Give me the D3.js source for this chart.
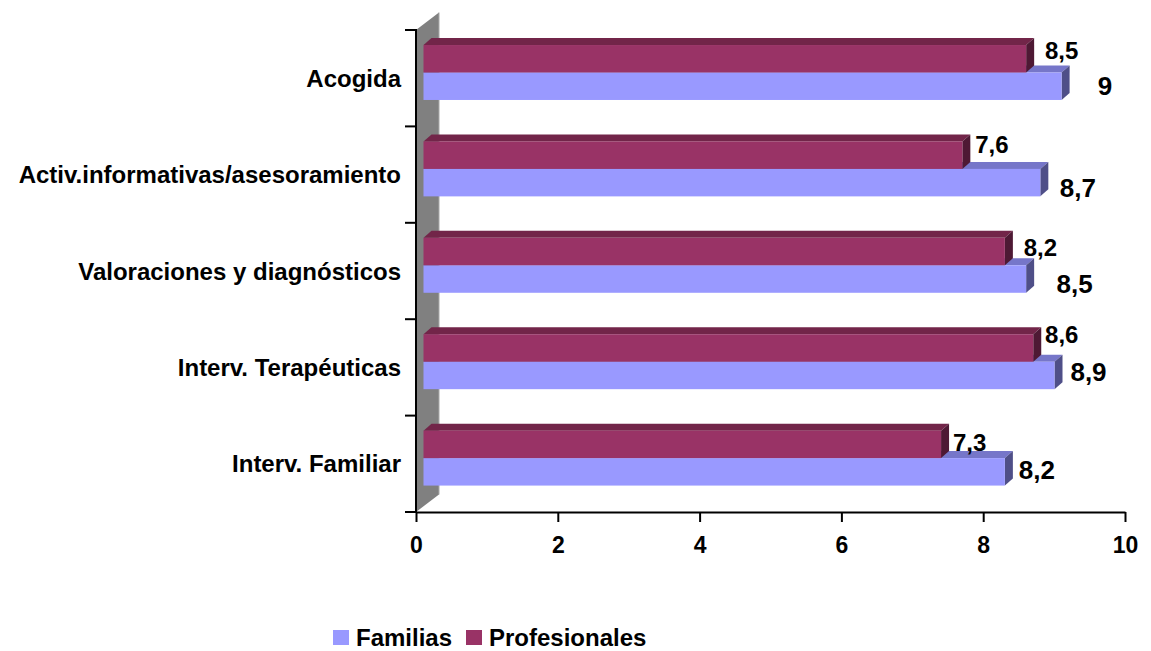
<!DOCTYPE html>
<html>
<head>
<meta charset="utf-8">
<script src="https://cdn.jsdelivr.net/npm/d3@7/dist/d3.min.js"></script>
<style>
  html, body { margin: 0; padding: 0; background: #fff; }
  svg { display: block; }
  text { font-family: "Liberation Sans", Arial, sans-serif; font-weight: bold; fill: #000; }
</style>
</head>
<body>
<svg id="chart" width="1151" height="651"></svg>
<script>
// Categories, listed from top to bottom
const categories = [
  "Acogida",
  "Activ.informativas/asesoramiento",
  "Valoraciones y diagnósticos",
  "Interv. Terapéuticas",
  "Interv. Familiar"
];
// Ratings per series
const familias      = [9, 8.7, 8.5, 8.9, 8.2];
const profesionales = [8.5, 7.6, 8.2, 8.6, 7.3];
const seriesNames   = ["Familias", "Profesionales"];
const xTicks        = [0, 2, 4, 6, 8, 10];

// Per-label nudges for the value labels (pixels)
const nudgeProf = { dx: [4, -2, 4, -3, -3], dy: [-8, -11, -4, -14, -2] };
const nudgeFam  = { dx: [5, -1, 10, -4.5, -6.5], dy: [-1, 5, 5, -4, -2] };

const svg = d3.select("#chart");

const plot = { left: 416, right: 1125, top: 30, bottom: 512 };
const x = d3.scaleLinear().domain([0, 10]).range([plot.left, plot.right]);
const y = d3.scaleBand().domain(categories).range([plot.top, plot.bottom]).padding(0);

// 3D depth of the back wall and of the bars
const wall = { dx: 23, dy: -17.5 };
const front = { dx: 7.5, dy: -5.7 };   // front face offset from the axis plane
const depth = { dx: 8, dy: -7 };        // bar thickness
const barH = y.bandwidth() * 0.285;

const palette = {
  Familias:      { front: "#9999FF", top: "#7676C9", side: "#4F4F88" },
  Profesionales: { front: "#993366", top: "#722549", side: "#4E1934" }
};

// Back wall
svg.append("polygon")
  .attr("points", [
    [plot.left, plot.top],
    [plot.left + wall.dx, plot.top + wall.dy],
    [plot.left + wall.dx, plot.bottom + wall.dy],
    [plot.left, plot.bottom]
  ].map(p => p.join(",")).join(" "))
  .attr("fill", "#808080");
svg.append("line")
  .attr("x1", plot.left + wall.dx).attr("x2", plot.left + wall.dx)
  .attr("y1", plot.top + wall.dy).attr("y2", plot.bottom + wall.dy)
  .attr("stroke", "#a8a8a8").attr("stroke-width", 1);

function drawBar(g, value, yFront, colors) {
  const x0 = x(0) + front.dx;
  const x1 = x(value) + front.dx;
  const y0 = yFront, y1 = yFront + barH;
  const pts = arr => arr.map(p => p.join(",")).join(" ");
  // top face
  g.append("polygon").attr("fill", colors.top).attr("points", pts([
    [x0, y0], [x0 + depth.dx, y0 + depth.dy], [x1 + depth.dx, y0 + depth.dy], [x1, y0]
  ]));
  // end face
  g.append("polygon").attr("fill", colors.side).attr("points", pts([
    [x1, y0], [x1 + depth.dx, y0 + depth.dy], [x1 + depth.dx, y1 + depth.dy], [x1, y1]
  ]));
  // front face
  g.append("rect").attr("fill", colors.front)
    .attr("x", x0).attr("y", y0).attr("width", x1 - x0).attr("height", barH);
}

const bars = svg.append("g");
categories.forEach((c, i) => {
  const mid = y(c) + y.bandwidth() / 2 + front.dy;
  const g = bars.append("g");
  // lower bar first so the upper one covers its top face
  drawBar(g, familias[i], mid, palette.Familias);
  drawBar(g, profesionales[i], mid - barH, palette.Profesionales);
});

// Value labels
const labels = svg.append("g");
categories.forEach((c, i) => {
  const mid = y(c) + y.bandwidth() / 2 + front.dy;
  labels.append("text")
    .attr("x", x(profesionales[i]) + 39 + nudgeProf.dx[i])
    .attr("y", mid - barH / 2 + nudgeProf.dy[i])
    .attr("dy", "0.36em")
    .attr("text-anchor", "middle")
    .style("font-size", "24px")
    .text(String(profesionales[i]).replace(".", ","));
  labels.append("text")
    .attr("x", x(familias[i]) + 46 + nudgeFam.dx[i])
    .attr("y", mid + barH / 2 + nudgeFam.dy[i])
    .attr("dy", "0.36em")
    .attr("text-anchor", "middle")
    .style("font-size", "26px")
    .text(String(familias[i]).replace(".", ","));
});

// Vertical axis with ticks at band boundaries
const axes = svg.append("g").attr("stroke", "#000").attr("stroke-width", 2);
axes.append("line")
  .attr("x1", plot.left).attr("x2", plot.left)
  .attr("y1", plot.top - 1).attr("y2", plot.bottom);
const bounds = categories.map(c => y(c)).concat([plot.bottom]);
axes.selectAll("line.ytick").data(bounds).join("line")
  .attr("class", "ytick")
  .attr("x1", plot.left - 11).attr("x2", plot.left)
  .attr("y1", d => d).attr("y2", d => d);

// Horizontal axis
const xAxis = svg.append("g")
  .attr("transform", `translate(0,${plot.bottom})`)
  .call(d3.axisBottom(x).tickValues(xTicks).tickSize(10).tickSizeOuter(0).tickPadding(15));
xAxis.select(".domain").attr("stroke", "#000").attr("stroke-width", 2);
xAxis.selectAll(".tick line").attr("stroke", "#000").attr("stroke-width", 2);
xAxis.selectAll(".tick text")
  .style("font-size", "23px")
  .style("font-family", "'Liberation Sans', Arial, sans-serif")
  .style("font-weight", "bold")
  .attr("fill", "#000");

// Category labels
svg.append("g").selectAll("text").data(categories).join("text")
  .attr("x", 401)
  .attr("y", d => y(d) + y.bandwidth() / 2)
  .attr("dy", "0.36em")
  .attr("text-anchor", "end")
  .style("font-size", "24px")
  .text(d => d);

// Legend
const legendPos = [333, 466];
const legend = svg.append("g");
seriesNames.forEach((name, i) => {
  legend.append("rect")
    .attr("x", legendPos[i]).attr("y", 630)
    .attr("width", 16).attr("height", 15)
    .attr("fill", palette[name].front);
  legend.append("text")
    .attr("x", legendPos[i] + 23).attr("y", 646)
    .style("font-size", "24px")
    .text(name);
});
</script>
</body>
</html>
